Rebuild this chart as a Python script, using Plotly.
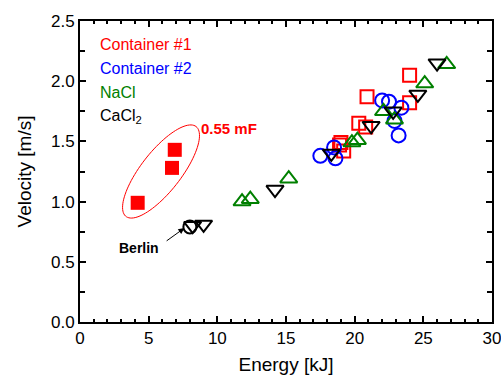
import numpy as np
import plotly.graph_objects as go

# ---- data ----
c1_x = [24.0, 20.9, 24.0, 20.3, 20.8, 19.0, 19.2, 18.9]
c1_y = [2.05, 1.87, 1.82, 1.65, 1.62, 1.49, 1.42, 1.47]

c1f_x = [6.9, 6.7, 4.2]
c1f_y = [1.43, 1.28, 0.99]

c2_x = [22.0, 22.5, 23.4, 22.9, 23.2, 18.5, 17.5, 18.6]
c2_y = [1.84, 1.83, 1.78, 1.67, 1.55, 1.45, 1.38, 1.36]

nacl_x = [26.7, 25.1, 22.1, 22.9, 19.8, 20.2, 11.8, 12.4, 15.2]
nacl_y = [2.14, 1.98, 1.75, 1.68, 1.49, 1.51, 1.00, 1.02, 1.19]

cacl_x = [26.0, 24.6, 22.8, 21.2, 18.3, 14.2, 8.2, 9.0]
cacl_y = [2.15, 1.89, 1.75, 1.63, 1.40, 1.10, 0.80, 0.81]

berlin_x = [8.0]
berlin_y = [0.79]

legend_names = ["Container #1", "Container #2", "NaCl", "CaCl<sub>2</sub>"]
legend_colors = ["#ff0000", "#0000ff", "#008000", "#000000"]

x_ticks = [0, 5, 10, 15, 20, 25, 30]
y_ticks = [0.0, 0.5, 1.0, 1.5, 2.0, 2.5]

FONT = "Liberation Sans, Arial, sans-serif"

fig = go.Figure()

def add(x, y, sym, color, size=13):
    fig.add_trace(go.Scatter(
        x=x, y=y, mode="markers", showlegend=False,
        marker=dict(symbol=sym, size=size, color=color,
                    line=dict(color=color, width=2)),
        cliponaxis=False))

add(c1_x, c1_y, "square-open", "#ff0000")
add(c2_x, c2_y, "circle-open", "#0000ff", 14)
add(nacl_x, nacl_y, "triangle-up-open", "#008000", 15)
add(cacl_x, cacl_y, "triangle-down-open", "#000000", 15)
add(berlin_x, berlin_y, "circle-open", "#000000", 13)
fig.add_trace(go.Scatter(x=c1f_x, y=c1f_y, mode="markers", showlegend=False,
                         marker=dict(symbol="square", size=14, color="#ff0000")))

# ellipse around 0.55 mF points (built in pixel-like space, converted to data)
sx = 412 / 30.0
sy = 301 / 2.5
cx, cy = 5.9, 1.25
a, b, ang = 57, 20, np.deg2rad(52)
t = np.linspace(0, 2 * np.pi, 100)
px = a * np.cos(t) * np.cos(ang) - b * np.sin(t) * np.sin(ang)
py = a * np.cos(t) * np.sin(ang) + b * np.sin(t) * np.cos(ang)
ex = cx + px / sx
ey = cy + py / sy
path = "M " + " L ".join(f"{u:.4f},{v:.4f}" for u, v in zip(ex, ey)) + " Z"
fig.add_shape(type="path", path=path, xref="x", yref="y",
              line=dict(color="#ff0000", width=1))

fig.add_annotation(x=8.7, y=1.61, text="<b>0.55 mF</b>", showarrow=False,
                   xanchor="left", font=dict(color="#ff0000", size=15, family=FONT))

fig.add_annotation(x=4.3, y=0.615, text="<b>Berlin</b>", showarrow=False,
                   font=dict(color="#000000", size=14, family=FONT))
fig.add_annotation(x=7.6, y=0.78, ax=6.2, ay=0.665, axref="x", ayref="y",
                   text="", showarrow=True, arrowhead=2, arrowsize=1.2,
                   arrowwidth=1, arrowcolor="#000000")

for i, (name, col) in enumerate(zip(legend_names, legend_colors)):
    fig.add_annotation(xref="paper", yref="paper", x=0.043,
                       y=1 - (24 + 23.7 * i) / 301, text=name, showarrow=False,
                       xanchor="left", yanchor="middle",
                       font=dict(color=col, size=16, family=FONT))

fig.update_layout(
    width=501, height=378,
    margin=dict(l=80, r=9, t=21, b=56),
    paper_bgcolor="white", plot_bgcolor="white",
    font=dict(family=FONT, color="#000000", size=16),
    xaxis=dict(range=[0, 30], tickvals=x_ticks, ticks="inside", ticklen=6,
               tickwidth=1.5, tickcolor="#000", showgrid=False, zeroline=False,
               showline=True, linecolor="#000", linewidth=2, mirror="ticks",
               automargin=False, ticklabeloverflow="allow",
               minor=dict(dtick=1, ticks="inside", ticklen=3, tickwidth=1.5,
                          tickcolor="#000", showgrid=False),
               title=dict(text="Energy [kJ]", font=dict(size=19), standoff=10),
               tickfont=dict(size=17)),
    yaxis=dict(range=[0, 2.5], tickvals=y_ticks, tickformat=".1f",
               ticks="inside", ticklen=6, tickwidth=1.5, tickcolor="#000",
               showgrid=False, zeroline=False, showline=True, linecolor="#000",
               linewidth=2, mirror="ticks", automargin=False,
               minor=dict(dtick=0.25, ticks="inside", ticklen=5, tickwidth=1.5,
                          tickcolor="#000", showgrid=False),
               title=dict(text="Velocity [m/s]", font=dict(size=19), standoff=14),
               tickfont=dict(size=17)),
)

fig.write_html("out.html", config={"displayModeBar": False},
               post_script="document.body.style.margin='0px';"
                           "document.body.style.overflow='hidden';")
